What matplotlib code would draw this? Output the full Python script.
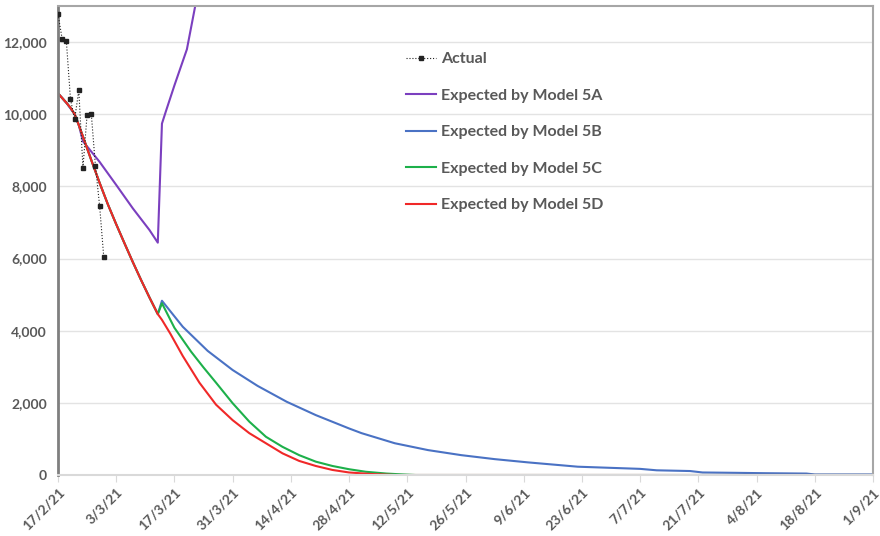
import datetime as dt
import matplotlib.pyplot as plt
from matplotlib.ticker import FuncFormatter

plt.rcParams['font.family'] = ['Lato', 'DejaVu Sans']

start = dt.date(2021, 2, 17)

# actual cases, daily from 17/2/21
actual_days = [0, 1, 2, 3, 4, 5, 6, 7, 8, 9, 10, 11]
actual = [12770, 12090, 12040, 10420, 9860, 10660, 8520, 9990, 10020, 8570, 7470, 6050]

# Model 5A
a_days = [0, 2, 4, 5, 6, 10, 14, 18, 22, 24, 25, 26, 28, 31, 32, 33, 34]
a_vals = [10580, 10320, 10000, 9700, 9250, 8680, 8040, 7390, 6790, 6440,
          9740, 10100, 10800, 11800, 12400, 13000, 13500]

# Model 5B
b_days = [0, 1, 2, 3, 4, 5, 6, 8, 10, 12, 14, 16, 18, 20, 22, 24,
          25, 30, 36, 42, 48, 55, 62, 70, 73, 81, 89, 97, 105, 113, 125,
          130, 140, 144, 152, 155, 163, 170, 180, 182, 196]
b_vals = [10580, 10450, 10320, 10180, 10000, 9700, 9380, 8730, 8100, 7500,
          6950, 6420, 5900, 5400, 4920, 4460,
          4830, 4110, 3440, 2910, 2470, 2030, 1660, 1290, 1160, 880, 690, 550,
          440, 350, 230, 210, 170, 130, 110, 70, 60, 50, 40, 15, 15]

# Model 5C
c_days = [0, 1, 2, 3, 4, 5, 6, 8, 10, 12, 14, 16, 18, 20, 22, 24,
          25, 28, 32, 35, 38, 42, 46, 50, 54, 58, 62, 66, 70, 74, 79, 83, 86, 196]
c_vals = [10580, 10450, 10320, 10180, 10000, 9700, 9380, 8730, 8100, 7500,
          6950, 6420, 5900, 5400, 4920, 4460,
          4760, 4080, 3420, 2980, 2560, 1990, 1480, 1060, 780, 550, 370, 250,
          160, 90, 40, 15, 0, 0]

# Model 5D
d_days = [0, 1, 2, 3, 4, 5, 6, 8, 10, 12, 14, 16, 18, 20, 22, 24,
          25, 27, 30, 34, 38, 42, 46, 50, 54, 58, 62, 66, 70, 75, 81, 196]
d_vals = [10580, 10450, 10320, 10180, 10000, 9700, 9380, 8730, 8100, 7500,
          6950, 6420, 5900, 5400, 4920, 4460,
          4300, 3920, 3300, 2560, 1950, 1520, 1160, 880, 600, 390, 250, 140,
          70, 30, 0, 0]

tick_labels = ['17/2/21', '3/3/21', '17/3/21', '31/3/21', '14/4/21', '28/4/21',
               '12/5/21', '26/5/21', '9/6/21', '23/6/21', '7/7/21', '21/7/21',
               '4/8/21', '18/8/21', '1/9/21']
y_ticks = [0, 2000, 4000, 6000, 8000, 10000, 12000]


def to_dates(days):
    return [start + dt.timedelta(days=d) for d in days]


fig = plt.figure(figsize=(8.8, 5.36), dpi=100)
ax = fig.add_axes([58 / 880, 61 / 536, 815 / 880, 469 / 536])

ax.plot(to_dates(a_days), a_vals, color='#7B3FBF', lw=1.5, label='Expected by Model 5A')
ax.plot(to_dates(b_days), b_vals, color='#4A72C4', lw=1.5, label='Expected by Model 5B')
ax.plot(to_dates(c_days), c_vals, color='#1DB04A', lw=1.5, label='Expected by Model 5C')
ax.plot(to_dates(d_days), d_vals, color='#F02828', lw=1.5, label='Expected by Model 5D')
ax.plot(to_dates(actual_days), actual, color='#222222', lw=0.8, ls=':',
        marker='s', ms=2.3, label='Actual', zorder=5)

tick_pos = [start + dt.timedelta(days=14 * i) for i in range(len(tick_labels))]
ax.set_xlim(tick_pos[0], tick_pos[-1])
ax.set_ylim(0, 13000)
ax.set_xticks(tick_pos)
ax.set_xticklabels(tick_labels, rotation=45, ha='right', rotation_mode='anchor',
                   fontsize=10, fontweight='bold', color='#595959')
ax.set_yticks(y_ticks)
ax.yaxis.set_major_formatter(FuncFormatter(lambda v, p: '{:,}'.format(int(v))))
for t in ax.get_yticklabels():
    t.set_fontsize(10)
    t.set_fontweight('bold')
    t.set_color('#595959')
ax.tick_params(axis='y', length=0, pad=8)
ax.tick_params(axis='x', length=5, color='#D9D9D9', pad=3)

ax.grid(axis='y', color='#E3E3E3', lw=1)
ax.set_axisbelow(True)
ax.spines['left'].set_color('#7F7F7F')
ax.spines['left'].set_linewidth(2)
ax.spines['bottom'].set_color('#D9D9D9')
ax.spines['bottom'].set_linewidth(1.5)
ax.spines['top'].set_color('#A6A6A6')
ax.spines['top'].set_linewidth(1.5)
ax.spines['right'].set_color('#A6A6A6')
ax.spines['right'].set_linewidth(1.5)

h, l = ax.get_legend_handles_labels()
order = [4, 0, 1, 2, 3]
leg = fig.legend([h[i] for i in order], [l[i] for i in order],
                 loc='upper left', bbox_to_anchor=(398 / 880, 1 - 44 / 536),
                 frameon=False, borderpad=0, labelspacing=1.4,
                 handlelength=1.9, handletextpad=0.32,
                 prop={'weight': 'bold', 'size': 11.5})
for t in leg.get_texts():
    t.set_color('#595959')

fig.savefig('out.png', dpi=100)
